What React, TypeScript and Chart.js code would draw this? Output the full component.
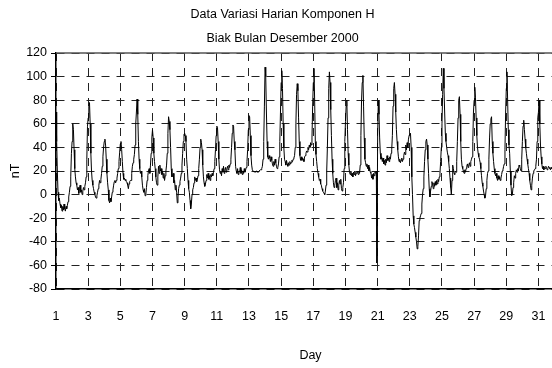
import React, { useEffect, useRef } from "react";
import { Chart, registerables } from "chart.js";

Chart.register(...registerables);

const titleLines = ["Data Variasi Harian Komponen H", "Biak Bulan Desember 2000"];
const xTitle = "Day";
const yTitle = "nT";
const dayTicks = [1, 3, 5, 7, 9, 11, 13, 15, 17, 19, 21, 23, 25, 27, 29, 31];
const yTicks = [-80, -60, -40, -20, 0, 20, 40, 60, 80, 100, 120];

// hourly H variation (nT), hours 0..23 of each day
const day01 = [70, 45, 20, 2, -5, -3, -8, -11, -9, -14, -10, -13, -8, -12, -14, -10, -12, -9, -6, -2, 2, 7, 15, 35];
const day02 = [45, 60, 55, 38, 22, 15, 10, 8, 4, 6, 1, 5, 8, 2, 4, 0, 3, 6, 4, 7, 10, 15, 30, 58];
const day03 = [65, 75, 78, 60, 35, 20, 12, 8, 5, 2, 0, -2, -3, -1, 2, 5, 8, 12, 10, 13, 18, 24, 32, 40];
const day04 = [45, 47, 42, 30, 18, 10, 4, -5, -7, -3, -6, -2, 2, 4, 8, 11, 12, 10, 12, 14, 18, 22, 28, 36];
const day05 = [43, 45, 38, 28, 18, 13, 14, 12, 13, 11, 10, 8, 5, 9, 11, 12, 12, 18, 24, 27, 30, 34, 42, 60];
const day06 = [70, 81, 68, 45, 30, 22, 18, 20, 15, 8, 4, 2, 5, -1, 0, 6, 12, 16, 20, 22, 18, 25, 35, 48];
const day07 = [55, 48, 35, 28, 22, 15, 10, 8, 15, 24, 18, 25, 20, 22, 17, 20, 14, 18, 12, 16, 20, 25, 35, 52];
const day08 = [66, 62, 55, 40, 22, 15, 16, 18, 10, 12, 4, 8, 2, -7, -2, 5, 8, 11, 14, 18, 25, 35, 45, 51];
const day09 = [52, 50, 45, 30, 22, 12, 5, 2, -5, -12, -8, 0, 4, 6, 10, 15, 12, 14, 11, 13, 16, 22, 30, 40];
const day10 = [47, 44, 38, 25, 15, 10, 7, 9, 12, 17, 14, 18, 13, 16, 12, 17, 15, 18, 16, 19, 22, 28, 38, 50];
const day11 = [58, 57, 45, 30, 21, 18, 20, 16, 22, 19, 24, 18, 21, 23, 19, 22, 24, 21, 25, 23, 26, 30, 40, 52];
const day12 = [59, 58, 45, 38, 24, 20, 18, 22, 17, 20, 19, 23, 18, 21, 17, 20, 18, 22, 19, 21, 23, 28, 38, 55];
const day13 = [67, 66, 50, 33, 25, 21, 20, 20, 19, 20, 19, 20, 20, 19, 19, 20, 20, 21, 21, 22, 24, 30, 45, 75];
const day14 = [108, 100, 70, 45, 32, 30, 33, 31, 28, 32, 29, 26, 24, 28, 25, 30, 27, 24, 22, 23, 26, 32, 45, 70];
const day15 = [95, 105, 90, 60, 40, 30, 28, 25, 29, 26, 24, 27, 25, 28, 26, 27, 29, 28, 30, 31, 33, 40, 60, 85];
const day16 = [94, 88, 65, 45, 33, 29, 32, 29, 31, 30, 28, 32, 33, 35, 37, 36, 40, 38, 42, 40, 44, 42, 48, 75];
const day17 = [95, 107, 80, 45, 34, 28, 22, 18, 15, 12, 13, 9, 8, 5, 3, 2, 1, 0, 3, 8, 20, 40, 65, 90];
const day18 = [104, 95, 72, 50, 30, 18, 10, 6, 8, 12, 14, 6, 10, 4, 8, 12, 9, 13, 5, 3, 6, 10, 22, 45];
const day19 = [62, 75, 80, 55, 35, 25, 19, 17, 20, 16, 18, 15, 19, 17, 20, 16, 18, 20, 19, 17, 20, 18, 25, 50];
const day20 = [80, 95, 101, 75, 48, 30, 27, 24, 26, 22, 25, 20, 23, 19, 18, 14, 17, 13, 18, 16, 19, 18, 20, -58];
const day21 = [50, 80, 68, 48, 35, 30, 32, 28, 31, 26, 29, 25, 30, 27, 33, 29, 31, 28, 32, 30, 35, 38, 50, 75];
const day22 = [90, 95, 85, 70, 55, 45, 38, 32, 28, 30, 27, 29, 31, 28, 30, 33, 36, 34, 42, 38, 44, 40, 47, 50];
const day23 = [50, 52, 40, 15, 0, -18, -25, -28, -32, -36, -40, -46, -44, -35, -22, -20, -18, -16, -8, 0, 5, 15, 28, 38];
const day24 = [45, 47, 42, 30, 18, 5, -2, 3, 7, 11, 9, 5, 10, 7, 11, 8, 12, 9, 13, 11, 15, 18, 28, 40];
const day25 = [60, 85, 107, 90, 70, 52, 45, 40, 36, 33, 28, 22, 14, 6, 0, 12, 25, 22, 18, 17, 20, 19, 28, 45];
const day26 = [65, 80, 83, 68, 45, 30, 24, 22, 20, 18, 21, 19, 22, 24, 26, 23, 25, 27, 24, 28, 30, 32, 45, 70];
const day27 = [80, 91, 82, 65, 50, 40, 35, 32, 30, 27, 22, 16, 10, 7, 3, 0, -3, -1, 5, 12, 18, 20, 30, 48];
const day28 = [60, 64, 66, 45, 35, 28, 22, 18, 16, 18, 14, 12, 16, 13, 15, 12, 14, 17, 20, 21, 24, 26, 38, 70];
const day29 = [90, 104, 80, 55, 42, 35, 20, 8, -1, 0, 6, 10, 16, 14, 18, 21, 19, 22, 20, 25, 24, 22, 20, 30];
const day30 = [45, 58, 63, 55, 47, 40, 35, 30, 26, 22, 18, 12, 8, 4, 8, 14, 18, 20, 21, 22, 24, 30, 45, 65];
const day31 = [70, 80, 60, 42, 32, 26, 22, 24, 21, 23, 22, 24, 23, 21, 22, 24, 23, 22, 21, 23, 22, 24, 23, 22];

const days = [
  day01, day02, day03, day04, day05, day06, day07, day08, day09, day10,
  day11, day12, day13, day14, day15, day16, day17, day18, day19, day20,
  day21, day22, day23, day24, day25, day26, day27, day28, day29, day30, day31,
];

export default function App() {
  const ref = useRef<HTMLCanvasElement>(null);

  useEffect(() => {
    if (!ref.current) return;
    const points: { x: number; y: number }[] = [];
    days.forEach((vals, i) => {
      vals.forEach((v, h) => points.push({ x: i + 1 + h / 24, y: v }));
    });

    const font = { family: "'Liberation Sans', Arial, sans-serif", size: 12.5 };

    const topBorder = {
      id: "topBorder",
      afterDatasetsDraw(chart: any) {
        const { ctx, chartArea: a } = chart;
        ctx.save();
        ctx.strokeStyle = "#555";
        ctx.lineWidth = 1.5;
        ctx.beginPath();
        ctx.moveTo(a.left, a.top);
        ctx.lineTo(a.right, a.top);
        ctx.stroke();
        ctx.restore();
      },
    };

    const chart = new Chart(ref.current, {
      type: "line",
      data: {
        datasets: [
          {
            data: points,
            borderColor: "#000",
            borderWidth: 1,
            pointRadius: 0,
            tension: 0,
            fill: false,
          },
        ],
      },
      options: {
        animation: false,
        responsive: false,
        maintainAspectRatio: false,
        layout: { padding: 0 },
        plugins: {
          legend: { display: false },
          tooltip: { enabled: false },
          title: {
            display: true,
            text: titleLines,
            color: "#000",
            font: { ...font, weight: "normal", lineHeight: 24 / 12.5 },
            padding: { top: 3, bottom: 2 },
          },
        },
        scales: {
          x: {
            type: "linear",
            min: 1,
            max: 32.65,
            afterBuildTicks: (s: any) => {
              s.ticks = dayTicks.map((v) => ({ value: v }));
            },
            afterFit: (s: any) => {
              s.height = 79;
            },
            ticks: {
              color: "#000",
              font,
              padding: 3,
              maxRotation: 0,
              autoSkip: false,
              callback: (v: any) => String(v),
            },
            grid: {
              color: "#222",
              lineWidth: 1,
              drawTicks: true,
              tickLength: 17,
              tickColor: "rgba(0,0,0,0)",
            },
            border: { display: true, color: "#000", width: 1.5, dash: [8, 7] },
            title: {
              display: true,
              text: xTitle,
              color: "#000",
              font,
              padding: { top: 0, bottom: 4.8 },
            },
          },
          y: {
            type: "linear",
            min: -80,
            max: 120,
            afterBuildTicks: (s: any) => {
              s.ticks = yTicks.map((v) => ({ value: v }));
            },
            afterFit: (s: any) => {
              s.width = 56;
            },
            ticks: { color: "#000", font, padding: 4 },
            grid: { color: "#222", lineWidth: 1, tickLength: 5, tickColor: "#000" },
            border: { display: true, color: "#000", width: 1.5, dash: [8, 7] },
            title: {
              display: true,
              text: yTitle,
              color: "#000",
              font,
              padding: { top: 8, bottom: 4 },
            },
          },
        },
      },
      plugins: [topBorder],
    } as any);

    return () => chart.destroy();
  }, []);

  return (
    <div
      style={{
        position: "fixed",
        left: 0,
        top: 0,
        width: 552,
        height: 368,
        overflow: "hidden",
        background: "#fff",
      }}
    >
      <canvas ref={ref} width={565} height={368} style={{ display: "block", width: 565, height: 368 }} />
    </div>
  );
}
